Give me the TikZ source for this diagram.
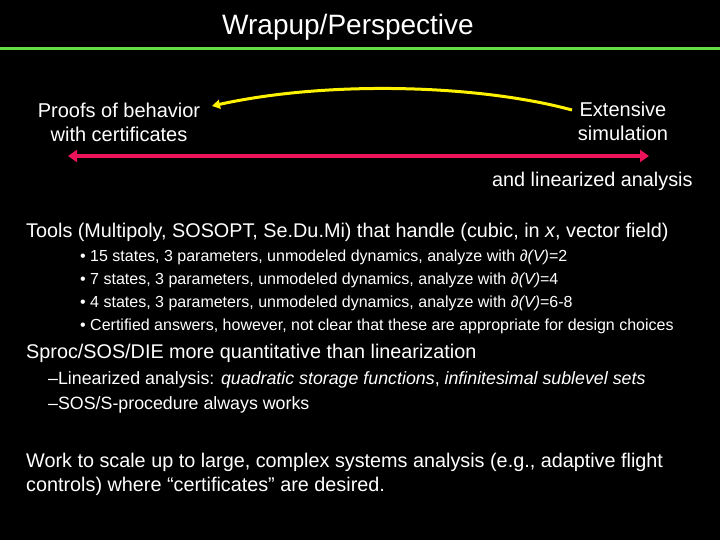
\documentclass[tikz,border=0pt]{standalone}
\usepackage{fontspec}
\setmainfont{Liberation Sans}
\usetikzlibrary{arrows.meta}
\definecolor{gline}{RGB}{100,220,70}
\definecolor{rline}{RGB}{235,20,90}
\begin{document}
\begin{tikzpicture}[x=1pt,y=-1pt,
  txt/.style={text=white,inner sep=0pt,font=\fontsize{19.8}{24}\selectfont},
  bul/.style={text=white,inner sep=0pt,anchor=west,font=\fontsize{16}{19}\selectfont}]
\fill[black] (0,0) rectangle (720,540);
\useasboundingbox (0,0) rectangle (720,540);
\node[txt,font=\fontsize{28}{32}\selectfont] (title) at (348,27) {Wrapup/Perspective};
\coordinate (gl) at (0,49); \coordinate (gr) at (720,49);
\draw[gline,line width=3pt] (gl) -- (gr);
\node[txt,align=center,font=\fontsize{20}{24}\selectfont] (proofs) at (119,122) {Proofs of behavior\\with certificates};
\node[txt,align=center,font=\fontsize{20}{24}\selectfont] (ext) at (623,121) {Extensive\\simulation};
\coordinate (ya) at (572,110); \coordinate (yb) at (212,106);
\draw[yellow,line width=3pt,-{Triangle[length=8pt,width=9pt]}] (ya) .. controls (480,85) and (330,80) .. (yb);
\coordinate (ra) at (68,156); \coordinate (rb) at (649,156);
\draw[rline,line width=4pt,{Triangle[length=9pt,width=12pt]}-{Triangle[length=9pt,width=12pt]}] (ra) -- (rb);
\node[txt,anchor=west] (lin) at (492,181) {and linearized analysis};
\node[txt,anchor=west] (tools) at (26,232) {Tools (Multipoly, SOSOPT, Se.Du.Mi) that handle (cubic, in \textit{x}, vector field)};
\node[bul] (b1) at (80,257) {• 15 states, 3 parameters, unmodeled dynamics, analyze with \textit{∂(V)}=2};
\node[bul] (b2) at (80,280) {• 7 states, 3 parameters, unmodeled dynamics, analyze with \textit{∂(V)}=4};
\node[bul] (b3) at (80,303) {• 4 states, 3 parameters, unmodeled dynamics, analyze with \textit{∂(V)}=6-8};
\node[bul] (b4) at (80,326) {• Certified answers, however, not clear that these are appropriate for design choices};
\node[txt,anchor=west] (sproc) at (26,353) {Sproc/SOS/DIE more quantitative than linearization};
\node[bul,font=\fontsize{17.8}{21}\selectfont] (l1) at (48,380) {–Linearized analysis: \textit{quadratic storage functions}, \textit{infinitesimal sublevel sets}};
\node[bul,font=\fontsize{17.8}{21}\selectfont] (l2) at (48,405) {–SOS/S-procedure always works};
\node[txt,anchor=west,align=left] (work) at (26,474) {Work to scale up to large, complex systems analysis (e.g., adaptive flight\\controls) where “certificates” are desired.};
\end{tikzpicture}
\end{document}
